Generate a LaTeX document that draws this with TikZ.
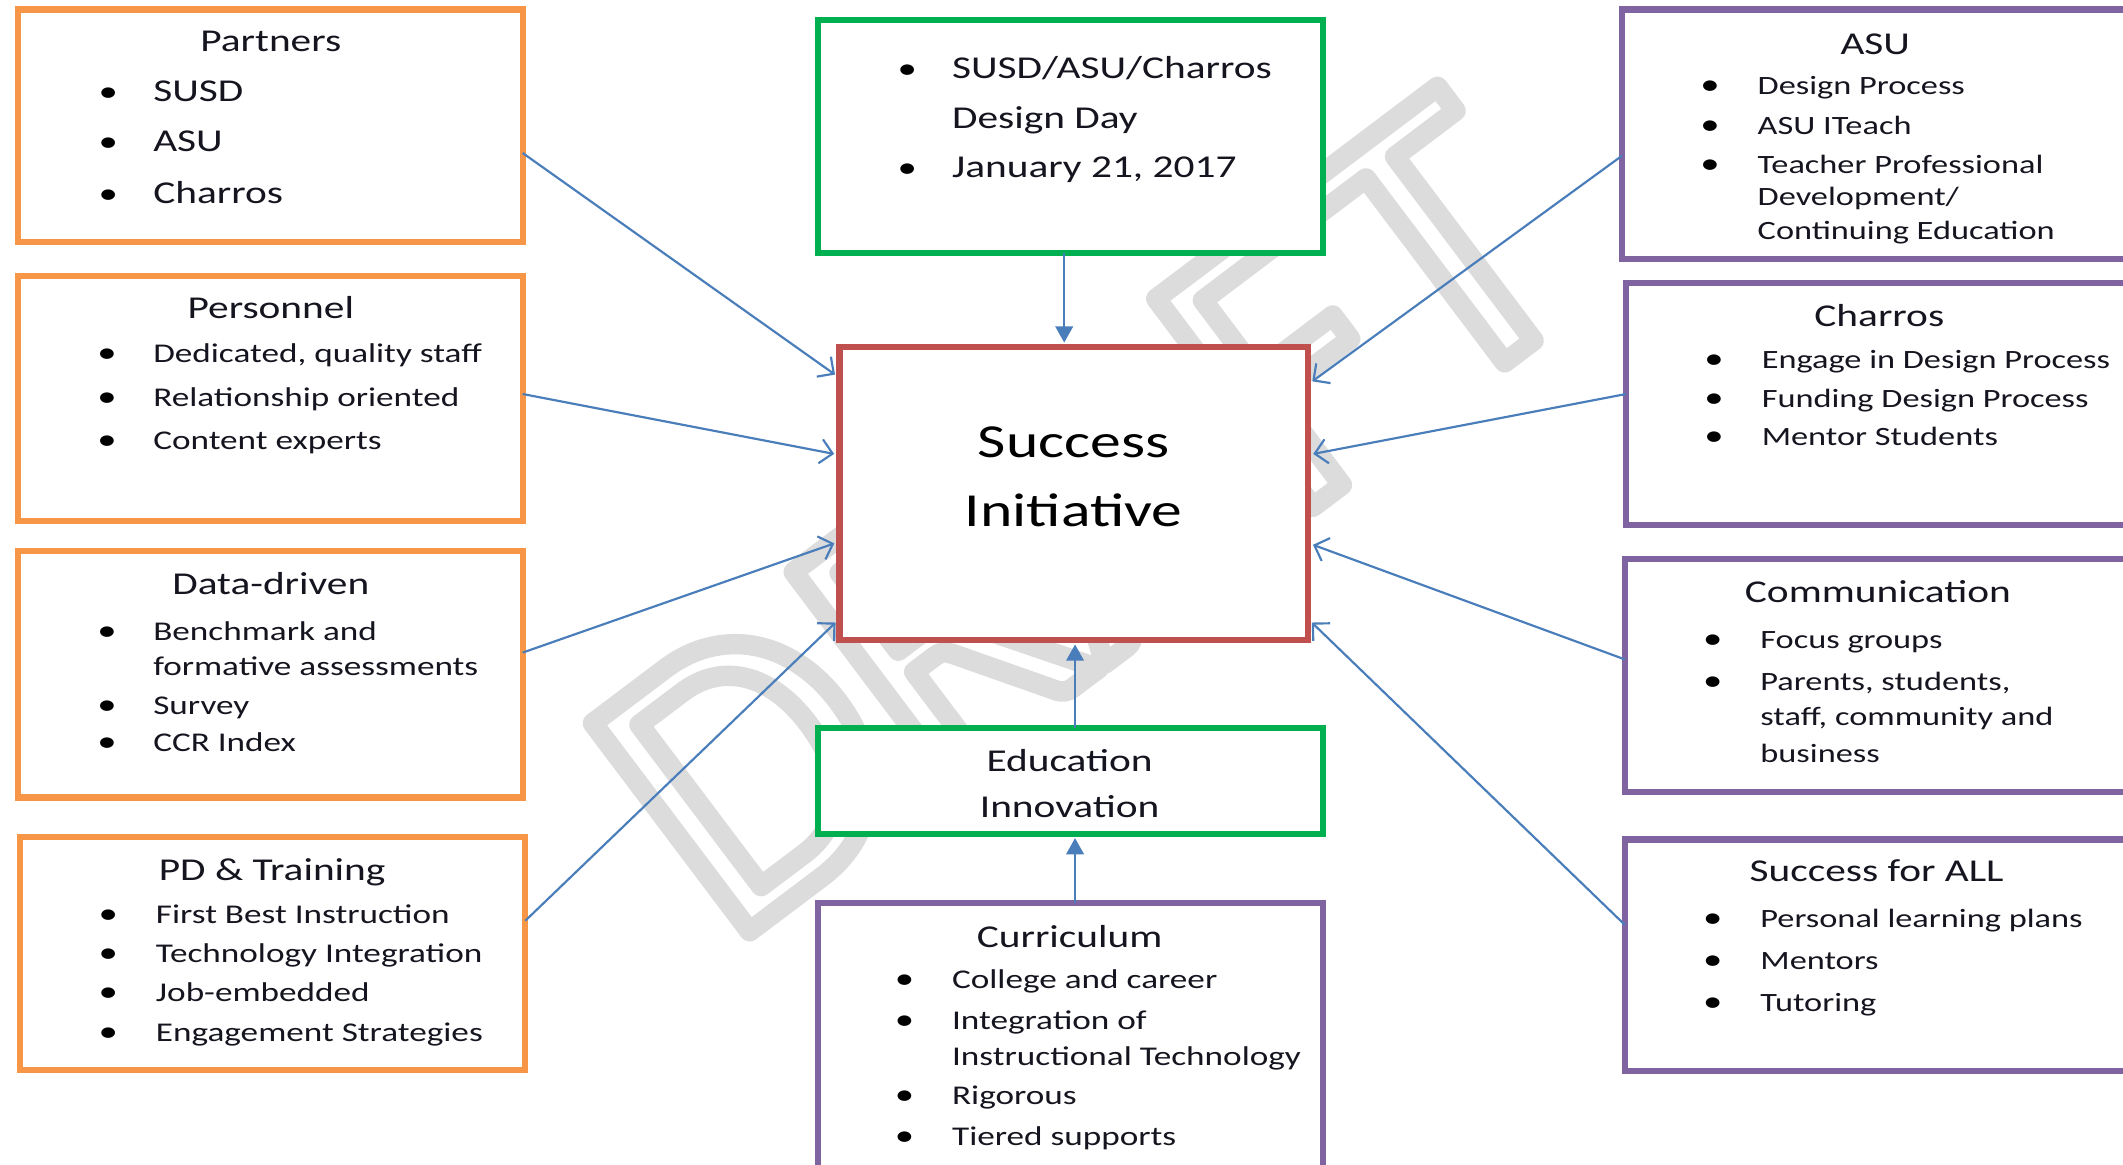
\documentclass[tikz,border=0pt]{standalone}
\usepackage{fontspec}
\setmainfont{Carlito}[FakeStretch=1.3]
\newfontfamily\wmfont{Carlito}
\usetikzlibrary{arrows.meta}
\definecolor{boxorange}{HTML}{F79646}
\definecolor{boxgreen}{HTML}{00B050}
\definecolor{boxred}{HTML}{C0504D}
\definecolor{boxpurple}{HTML}{8064A2}
\definecolor{arrowblue}{HTML}{4A7EBB}
\definecolor{wmgray}{HTML}{DCDCDC}
\definecolor{txt}{HTML}{151520}
\tikzset{
  frame/.style={draw=#1, line width=4.5pt, fill=white, rectangle, inner sep=0pt, outer sep=0pt, anchor=north west},
  ttl/.style={anchor=base, text=txt, font=\fontsize{23.5}{28}\selectfont, inner sep=0pt},
  itm/.style={anchor=base west, text=txt, font=\fontsize{20}{24}\selectfont, inner sep=0pt},
  ritm/.style={anchor=base west, text=txt, font=\fontsize{19.5}{24}\selectfont, inner sep=0pt},
  bigitm/.style={anchor=base west, text=txt, font=\fontsize{23.5}{28}\selectfont, inner sep=0pt},
  bul/.style={anchor=base, text=black, font=\fontsize{22}{24}\selectfont, inner sep=0pt},
  arr/.style={draw=arrowblue, line width=1.6pt, shorten >=4pt, -{Straight Barb[length=9pt,width=18pt,line width=1.6pt]}},
  varr/.style={draw=arrowblue, line width=1.6pt, shorten >=3pt, -{Triangle[length=12pt,width=13pt]}},
}
\begin{document}
\begin{tikzpicture}[x=1pt,y=-1pt]
\useasboundingbox (0,0) rectangle (1568,860);
\clip (0,0) rectangle (1568,860);
\fill[white] (0,0) rectangle (1568,860);
% watermark
\node[text=wmgray, rotate=37, inner sep=0pt, font=\wmfont\fontsize{300}{300}\selectfont] (wm) at (801,381) {\special{pdf:literal direct 1 Tr 15 w 1 j}DRAFT\special{pdf:literal direct 0 Tr}};
% boxes
\node[frame=boxorange, minimum width=373pt, minimum height=172pt] (partners) at (13,7) {};
\node[frame=boxorange, minimum width=373pt, minimum height=181pt] (personnel) at (13,204) {};
\node[frame=boxorange, minimum width=373pt, minimum height=182pt] (data) at (13,407) {};
\node[frame=boxorange, minimum width=373pt, minimum height=172pt] (pd) at (15,618) {};
\node[frame=boxgreen, minimum width=373pt, minimum height=172pt] (top) at (604,15) {};
\node[frame=boxred, minimum width=346pt, minimum height=217pt] (succ) at (620,256) {};
\node[frame=boxgreen, minimum width=373pt, minimum height=78pt] (edu) at (604,538) {};
\node[frame=boxpurple, minimum width=373pt, minimum height=210pt] (curr) at (604,667) {};
\node[frame=boxpurple, minimum width=390pt, minimum height=184pt] (asu) at (1198,7) {};
\node[frame=boxpurple, minimum width=390pt, minimum height=179pt] (charros) at (1201,209) {};
\node[frame=boxpurple, minimum width=390pt, minimum height=172pt] (comm) at (1200,413) {};
\node[frame=boxpurple, minimum width=390pt, minimum height=171pt] (sfa) at (1200,620) {};
% Partners
\node[ttl] (partners-t) at (200,38) {Partners};
\node[bul] (partners-b1) at (80,75) {•};
\node[bigitm] (partners-i1) at (113,75) {SUSD};
\node[bul] (partners-b2) at (80,112) {•};
\node[bigitm] (partners-i2) at (113,112) {ASU};
\node[bul] (partners-b3) at (80,150) {•};
\node[bigitm] (partners-i3) at (113,150) {Charros};
% Personnel
\node[ttl] (personnel-t) at (200,235) {Personnel};
\node[bul] (personnel-b1) at (79,268) {•};
\node[itm] (personnel-i1) at (113,268) {Dedicated, quality staff};
\node[bul] (personnel-b2) at (79,300) {•};
\node[itm] (personnel-i2) at (113,300) {Relationship oriented};
\node[bul] (personnel-b3) at (79,332) {•};
\node[itm] (personnel-i3) at (113,332) {Content experts};
% Data-driven
\node[ttl] (data-t) at (200,439) {Data-driven};
\node[bul] (data-b1) at (79,473) {•};
\node[itm] (data-i1) at (113,473) {Benchmark and};
\node[itm] (data-i1b) at (113,499) {formative assessments};
\node[bul] (data-b2) at (79,528) {•};
\node[itm] (data-i2) at (113,528) {Survey};
\node[bul] (data-b3) at (79,555) {•};
\node[itm] (data-i3) at (113,555) {CCR Index};
% PD & Training
\node[ttl] (pd-t) at (201,650) {PD \& Training};
\node[bul] (pd-b1) at (80,682) {•};
\node[itm] (pd-i1) at (115,682) {First Best Instruction};
\node[bul] (pd-b2) at (80,711) {•};
\node[itm] (pd-i2) at (115,711) {Technology Integration};
\node[bul] (pd-b3) at (80,740) {•};
\node[itm] (pd-i3) at (115,740) {Job-embedded};
\node[bul] (pd-b4) at (80,769) {•};
\node[itm] (pd-i4) at (115,769) {Engagement Strategies};
% Top green
\node[bul] (top-b1) at (670,58) {•};
\node[bigitm] (top-i1) at (703,58) {SUSD/ASU/Charros};
\node[bigitm] (top-i1b) at (703,95) {Design Day};
\node[bul] (top-b2) at (670,131) {•};
\node[bigitm] (top-i2) at (703,131) {January 21, 2017};
% Success Initiative
\node[anchor=base, text=black, inner sep=0pt, font=\fontsize{35}{42}\selectfont] (succ-t1) at (793,338) {Success};
\node[anchor=base, text=black, inner sep=0pt, font=\fontsize{35}{42}\selectfont] (succ-t2) at (793,389) {Initiative};
% Education Innovation
\node[ttl] (edu-t1) at (790,570) {Education};
\node[ttl] (edu-t2) at (790,604) {Innovation};
% Curriculum
\node[ttl] (curr-t) at (790,700) {Curriculum};
\node[bul] (curr-b1) at (668,730) {•};
\node[itm] (curr-i1) at (703,730) {College and career};
\node[bul] (curr-b2) at (668,760) {•};
\node[itm] (curr-i2) at (703,760) {Integration of};
\node[itm] (curr-i2b) at (703,787) {Instructional Technology};
\node[bul] (curr-b3) at (668,816) {•};
\node[itm] (curr-i3) at (703,816) {Rigorous};
\node[bul] (curr-b4) at (668,846) {•};
\node[itm] (curr-i4) at (703,846) {Tiered supports};
% ASU
\node[ttl] (asu-t) at (1385,40) {ASU};
\node[bul] (asu-b1) at (1263,70) {•};
\node[ritm] (asu-i1) at (1298,70) {Design Process};
\node[bul] (asu-b2) at (1263,99) {•};
\node[ritm] (asu-i2) at (1298,99) {ASU ITeach};
\node[bul] (asu-b3) at (1263,128) {•};
\node[ritm] (asu-i3) at (1298,128) {Teacher Professional};
\node[ritm] (asu-i3b) at (1298,152) {Development/};
\node[ritm] (asu-i3c) at (1298,177) {Continuing Education};
% Charros
\node[ttl] (charros-t) at (1388,241) {Charros};
\node[bul] (charros-b1) at (1266,272) {•};
\node[ritm] (charros-i1) at (1301,272) {Engage in Design Process};
\node[bul] (charros-b2) at (1266,301) {•};
\node[ritm] (charros-i2) at (1301,301) {Funding Design Process};
\node[bul] (charros-b3) at (1266,329) {•};
\node[ritm] (charros-i3) at (1301,329) {Mentor Students};
% Communication
\node[ttl] (comm-t) at (1387,445) {Communication};
\node[bul] (comm-b1) at (1265,479) {•};
\node[ritm] (comm-i1) at (1300,479) {Focus groups};
\node[bul] (comm-b2) at (1265,510) {•};
\node[ritm] (comm-i2) at (1300,510) {Parents, students,};
\node[ritm] (comm-i2b) at (1300,536) {staff, community and};
\node[ritm] (comm-i2c) at (1300,563) {business};
% Success for ALL
\node[ttl] (sfa-t) at (1386,651) {Success for ALL};
\node[bul] (sfa-b1) at (1265,685) {•};
\node[ritm] (sfa-i1) at (1300,685) {Personal learning plans};
\node[bul] (sfa-b2) at (1265,716) {•};
\node[ritm] (sfa-i2) at (1300,716) {Mentors};
\node[bul] (sfa-b3) at (1265,747) {•};
\node[ritm] (sfa-i3) at (1300,747) {Tutoring};
% connectors
\draw[arr] (partners.east |- 0,113) -- (succ.west |- 0,279);
\draw[arr] (personnel.east |- 0,291) -- (succ.west |- 0,336);
\draw[arr] (data.east |- 0,482) -- (succ.west |- 0,400);
\draw[arr] (pd.east |- 0,680) -- (succ.west |- 0,457);
\draw[arr] (asu.west |- 0,115) -- (succ.east |- 0,284);
\draw[arr] (charros.west |- 0,291) -- (succ.east |- 0,336);
\draw[arr] (comm.west |- 0,487) -- (succ.east |- 0,401);
\draw[arr] (sfa.west |- 0,683) -- (succ.east |- 0,457);
\draw[varr] (top.south -| 786,0) -- (succ.north -| 786,0);
\draw[varr] (edu.north -| 794,0) -- (succ.south -| 794,0);
\draw[varr] (curr.north -| 794,0) -- (edu.south -| 794,0);
\end{tikzpicture}
\end{document}
